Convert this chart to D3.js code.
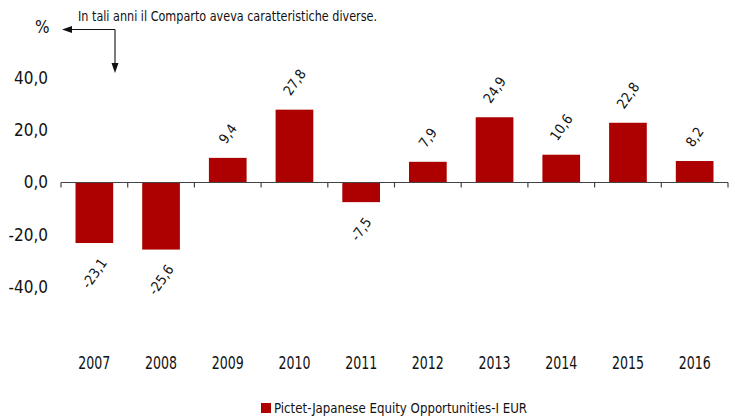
<!DOCTYPE html>
<html>
<head>
<meta charset="utf-8">
<script src="https://cdn.jsdelivr.net/npm/d3@7"></script>
<style>
  body { margin: 0; background: #fff; }
  text { font-family: "DejaVu Sans", sans-serif; font-stretch: condensed; fill: #111; }
</style>
</head>
<body>
<div id="chart"></div>
<script>
const years = ["2007", "2008", "2009", "2010", "2011", "2012", "2013", "2014", "2015", "2016"];
const returns = [-23.1, -25.6, 9.4, 27.8, -7.5, 7.9, 24.9, 10.6, 22.8, 8.2];
const yTicks = [-40, -20, 0, 20, 40];
const seriesName = "Pictet-Japanese Equity Opportunities-I EUR";
const note = "In tali anni il Comparto aveva caratteristiche diverse.";

const width = 735;
const height = 416;
const red = "#ad0000";
const fmt = (v) => d3.format(".1f")(v).replace(".", ",").replace("−", "-");

const data = years.map((y, i) => ({ year: y, value: returns[i] }));

const svg = d3
  .select("#chart")
  .append("svg")
  .attr("width", width)
  .attr("height", height);

// categories (ticks sit on the band edges)
const xScale = d3.scaleBand().domain(years).range([61, 728]).padding(0);

const xBar = d3
  .scaleBand()
  .domain(years)
  .range([61, 728])
  .paddingInner(0.435)
  .paddingOuter(0.2175);

const yScale = d3.scaleLinear().domain([-40, 40]).range([287.3, 77.7]);

// squeeze a label to the width it has in the picture
const fit = (sel, w) => sel.attr("textLength", w).attr("lengthAdjust", "spacingAndGlyphs");

// y tick labels, no axis line
svg
  .selectAll(".ylab")
  .data(yTicks)
  .enter()
  .append("text")
  .attr("class", "ylab")
  .attr("x", 48)
  .attr("y", (d) => yScale(d))
  .attr("dy", "0.35em")
  .attr("text-anchor", "end")
  .style("font-size", "17px")
  .text((d) => fmt(d));

svg
  .append("text")
  .attr("x", 35)
  .attr("y", 33)
  .style("font-size", "17px")
  .text("%");

// bars
svg
  .selectAll("rect")
  .data(data)
  .enter()
  .append("rect")
  .attr("x", (d) => xBar(d.year))
  .attr("y", (d) => yScale(Math.max(0, d.value)))
  .attr("width", xBar.bandwidth())
  .attr("height", (d) => Math.abs(yScale(d.value) - yScale(0)))
  .attr("fill", red);

// x axis along zero
const xAxis = d3
  .axisBottom(xScale)
  .tickSize(0)
  .tickPadding(0)
  .tickFormat("");

const axisG = svg
  .append("g")
  .attr("transform", `translate(0, ${yScale(0)})`)
  .call(xAxis);
axisG.select(".domain").attr("stroke", "#444").attr("stroke-width", 1.2).attr("d", "M61,0H728");

const edges = years.map((y) => xScale(y)).concat([728]);
axisG
  .selectAll(".edge")
  .data(edges)
  .enter()
  .append("line")
  .attr("class", "edge")
  .attr("x1", (d) => d)
  .attr("x2", (d) => d)
  .attr("y1", 0)
  .attr("y2", 5)
  .attr("stroke", "#444")
  .attr("stroke-width", 1.2);

// year labels
svg
  .selectAll(".xlab")
  .data(years)
  .enter()
  .append("text")
  .attr("class", "xlab")
  .attr("x", (d) => xScale(d) + xScale.bandwidth() / 2)
  .attr("y", 369)
  .attr("text-anchor", "middle")
  .style("font-size", "17px")
  .call(fit, 32)
  .text((d) => d);

// value labels, rotated
const angle = 55;
const rad = (angle * Math.PI) / 180;
svg
  .selectAll(".vlab")
  .data(data)
  .enter()
  .append("text")
  .attr("class", "vlab")
  .attr("text-anchor", "middle")
  .attr("dy", "0.35em")
  .style("font-size", "14px")
  .text((d) => fmt(d.value))
  .each(function (d) {
    const w = this.getComputedTextLength();
    const half = (w * Math.sin(rad) + 10 * Math.cos(rad)) / 2;
    const cx = xBar(d.year) + xBar.bandwidth() / 2;
    const cy = d.value >= 0 ? yScale(d.value) - 13 - half : yScale(d.value) + 14 + half;
    d3.select(this).attr("transform", `translate(${cx},${cy}) rotate(${-angle})`);
  });

// annotation with arrows
svg
  .append("text")
  .attr("x", 78)
  .attr("y", 21)
  .style("font-size", "14px")
  .call(fit, 299)
  .text(note);

svg
  .append("path")
  .attr("d", "M115,29.5H70 M115,29.5V64")
  .attr("fill", "none")
  .attr("stroke", "#111")
  .attr("stroke-width", 1.1);
svg.append("path").attr("d", "M62,29.5L72,26L72,33Z").attr("fill", "#111");
svg.append("path").attr("d", "M115,73L111.5,63L118.5,63Z").attr("fill", "#111");

// legend
const legend = svg.append("g").attr("transform", "translate(261, 403)");
legend.append("rect").attr("width", 10).attr("height", 10).attr("fill", red);
legend
  .append("text")
  .attr("x", 13)
  .attr("y", 10)
  .style("font-size", "14.5px")
  .call(fit, 253)
  .text(seriesName);
</script>
</body>
</html>
